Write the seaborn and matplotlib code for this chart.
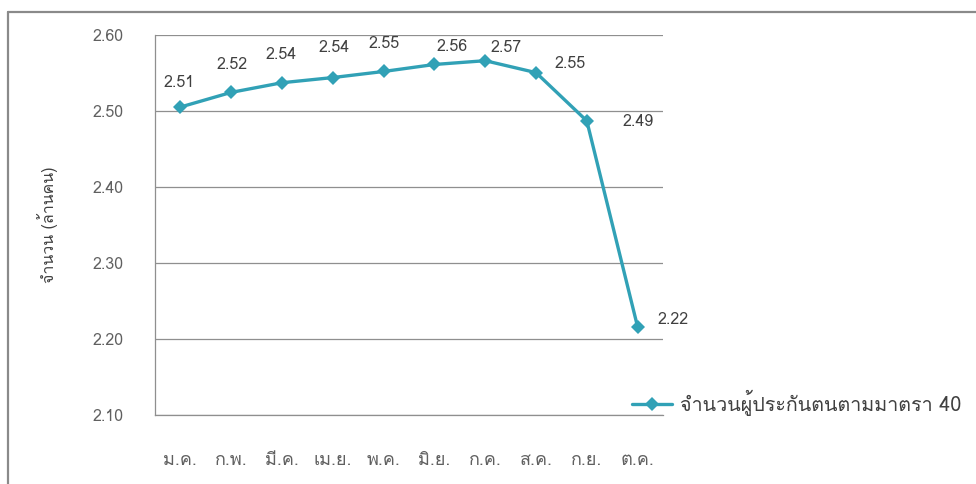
import matplotlib
matplotlib.use("Agg")
import matplotlib.pyplot as plt
from matplotlib import font_manager, ft2font
from matplotlib.lines import Line2D
import pandas as pd
import seaborn as sns

# Monthly figures (million persons)
months = ["ม.ค.", "ก.พ.", "มี.ค.", "เม.ย.", "พ.ค.", "มิ.ย.", "ก.ค.", "ส.ค.", "ก.ย.", "ต.ค."]
insured = [2.5052, 2.5245, 2.5372, 2.5440, 2.5520, 2.5612, 2.5662, 2.5505, 2.4870, 2.2160]
series_name = "จำนวนผู้ประกันตนตามมาตรา 40"
y_label = "จำนวน (ล้านคน)"
y_ticks = [2.10, 2.20, 2.30, 2.40, 2.50, 2.60]

# label offsets in pixels (dx, dy upward)
label_offsets = [(-1, 24), (1, 27), (-1, 28), (1, 30), (0, 27),
                 (18, 17), (21, 13), (34, 9), (51, -1), (35, 7)]


def thai_family():
    for f in font_manager.fontManager.ttflist:
        try:
            cmap = ft2font.FT2Font(f.fname).get_charmap()
        except Exception:
            continue
        if 0x0E08 in cmap and 0x0E33 in cmap and 0x0E1B in cmap:
            return f.name
    return None


sns.set_style("white")
fam = thai_family()
families = ([fam] if fam else []) + ["DejaVu Sans"]
plt.rcParams["font.family"] = families

LINE = "#31a1b6"
TXT = "#404040"
TICK = "#606060"
GRID = "#8f8f8f"

fig = plt.figure(figsize=(9.76, 4.84), dpi=100)
ax = fig.add_axes([155 / 976, 1 - 415 / 484, (663 - 155) / 976, (415 - 35) / 484])

df = pd.DataFrame({"month": months, "value": insured})
sns.lineplot(data=df, x="month", y="value", ax=ax, sort=False, color=LINE,
             linewidth=2.4, marker="D", markersize=7, markeredgewidth=0,
             label=series_name)

ax.set_xlim(-0.5, len(months) - 0.5)
ax.set_ylim(2.10, 2.60)
ax.set_yticks(y_ticks)
ax.set_yticklabels([f"{t:.2f}" for t in y_ticks])
ax.set_xlabel("")
ax.set_ylabel("")
ax.yaxis.grid(True, color=GRID, linewidth=0.9)
ax.set_axisbelow(True)
for side in ("top", "right"):
    ax.spines[side].set_visible(False)
for side in ("left", "bottom"):
    ax.spines[side].set_color(GRID)
    ax.spines[side].set_linewidth(0.9)
ax.tick_params(axis="y", length=0, pad=23, labelsize=11.5, labelcolor=TICK)
ax.tick_params(axis="x", length=0, pad=26, labelsize=13, labelcolor=TICK)

for i, (v, (dx, dy)) in enumerate(zip(insured, label_offsets)):
    ax.annotate(f"{v:.2f}", (i, v), xytext=(dx, dy), textcoords="offset pixels",
                ha="center", va="center", fontsize=11.5, color=TXT)

ax.legend_.remove()
handle = Line2D([], [], color=LINE, linewidth=2.4, marker="D", markersize=7,
                markeredgewidth=0)
fig.legend([handle], [series_name], loc="center left",
           bbox_to_anchor=(632 / 976, 1 - 403 / 484), frameon=False,
           fontsize=14.2, handlelength=2.05, handletextpad=0.38,
           borderpad=0, borderaxespad=0, labelcolor=TXT)

fig.text(48 / 976, 1 - 225 / 484, y_label, rotation=90, ha="center", va="center",
         fontsize=11.5, color=TXT)

# outer frame (top and left edges)
fig.add_artist(Line2D([8 / 976, 1.0], [1 - 12 / 484, 1 - 12 / 484],
                      transform=fig.transFigure, color="#8a8a8a", linewidth=1.6))
fig.add_artist(Line2D([8 / 976, 8 / 976], [0.0, 1 - 12 / 484],
                      transform=fig.transFigure, color="#8a8a8a", linewidth=1.6))

fig.savefig("out.png", dpi=100, facecolor="white")
